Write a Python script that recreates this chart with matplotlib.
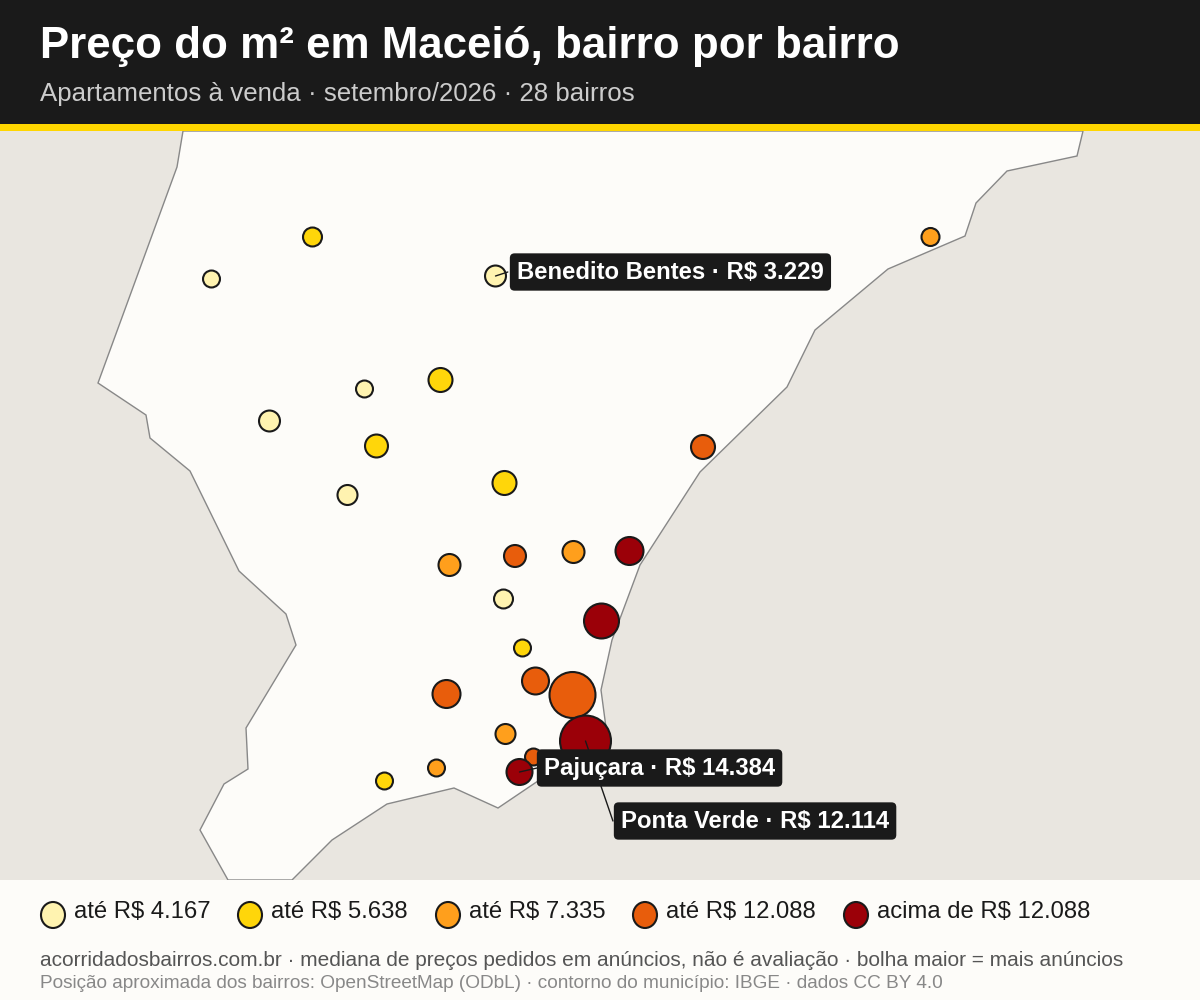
import matplotlib
matplotlib.use("Agg")
import matplotlib.pyplot as plt
from matplotlib.patches import Ellipse, Polygon, Rectangle

plt.rcParams["font.family"] = ["Liberation Sans", "DejaVu Sans"]

# outline of the municipality
contorno_x = [183, 177, 98, 146, 150, 190, 239, 286, 296, 246, 248, 224, 200, 228, 292, 332, 387, 454, 498,
              535, 607, 601, 612, 640, 700, 787, 815, 888, 965, 976, 1007, 1077, 1083]
contorno_y = [131, 167, 383, 415, 438, 471, 571, 614, 645, 728, 769, 784, 830, 880, 880, 840, 804, 788, 808,
              783, 735, 690, 640, 565, 472, 387, 330, 269, 236, 203, 171, 156, 131]

# bairros: position on the map, listings (bubble area), price band
bairro_x = [211.5, 495.5, 364.5, 269.5, 347.5, 503.5,
            312.5, 440.5, 376.5, 504.5, 522.5, 384.5,
            930.5, 449.5, 573.5, 505.5, 436.5,
            703, 515, 535.5, 446.5, 572.5, 533.5,
            629.5, 601.5, 585.5, 519.5]
bairro_y = [279, 276, 389, 421, 495, 599,
            237, 380, 446, 483, 648, 781,
            237, 565, 552, 734, 768,
            447, 556, 681, 694, 695, 757,
            551, 621, 741, 772]
anuncios = [72, 110, 72, 110, 100, 90,
            90, 144, 132, 144, 72, 72,
            81, 121, 121, 100, 72,
            144, 121, 182, 196, 529, 72,
            196, 306, 650, 169]
faixa = [0, 0, 0, 0, 0, 0,
         1, 1, 1, 1, 1, 1,
         2, 2, 2, 2, 2,
         3, 3, 3, 3, 3, 3,
         4, 4, 4, 4]

cores = ["#fff3b0", "#ffd60a", "#ff9f1c", "#e85d0c", "#9b0008"]
legenda = ["até R$ 4.167", "até R$ 5.638", "até R$ 7.335", "até R$ 12.088", "acima de R$ 12.088"]
legenda_x = [53, 250, 448, 645, 856]

# Ponta Verde goes first so that its leader passes behind the Pajuçara label
destaques = ["Benedito Bentes · R$ 3.229", "Ponta Verde · R$ 12.114", "Pajuçara · R$ 14.384"]
destaque_ponto = [(495.5, 276), (585.5, 741), (519.5, 772)]
destaque_texto = [(517, 272), (621, 821), (544, 768)]

ESCURO = "#1a1a1a"
FUNDO = "#fdfcf9"
AGUA = "#e9e6e0"
W, H = 1200, 1000


def fx(x):
    return x / W


def fy(y):
    return 1 - y / H


fig = plt.figure(figsize=(12, 10), dpi=100, facecolor=FUNDO)

# header
fig.add_artist(Rectangle((0, fy(124)), 1, 124 / H, transform=fig.transFigure, color=ESCURO, lw=0))
fig.add_artist(Rectangle((0, fy(131)), 1, 7 / H, transform=fig.transFigure, color="#ffd600", lw=0))
fig.text(fx(40), fy(42), "Preço do m² em Maceió, bairro por bairro", color="white", fontsize=31.6,
         fontweight="bold", va="center_baseline")
fig.text(fx(40), fy(92), "Apartamentos à venda · setembro/2026 · 28 bairros", color="#cccccc", fontsize=18.6,
         va="center_baseline")

# map
ax = fig.add_axes([0, fy(880), 1, 749 / H])
ax.set_xlim(0, W)
ax.set_ylim(880, 131)
ax.set_facecolor(AGUA)
ax.axis("off")
ax.add_patch(Rectangle((0, 131), W, 749, color=AGUA, lw=0, zorder=0))
ax.add_patch(Polygon(list(zip(contorno_x, contorno_y)), closed=True, facecolor=FUNDO, edgecolor="#888888",
                     lw=1.0, zorder=1))

ax.scatter(bairro_x, bairro_y, s=[n * 2.07 for n in anuncios], c=[cores[f] for f in faixa],
           edgecolors=ESCURO, linewidths=1.5, zorder=3)

for rotulo, ponto, pos in zip(destaques, destaque_ponto, destaque_texto):
    ax.annotate(rotulo, xy=ponto, xytext=pos, color="white", fontsize=17.2, fontweight="bold", va="center",
                ha="left", zorder=5,
                bbox=dict(boxstyle="round,pad=0.3,rounding_size=0.2", fc=ESCURO, ec=ESCURO, lw=0),
                arrowprops=dict(arrowstyle="-", color=ESCURO, lw=1.0, shrinkA=0, shrinkB=0, relpos=(-0.03, 0.5)))

# legend
for x, cor, rotulo in zip(legenda_x, cores, legenda):
    fig.add_artist(Ellipse((fx(x), fy(915)), 24 / W, 26 / H, transform=fig.transFigure, facecolor=cor,
                           edgecolor=ESCURO, lw=1.5))
    fig.text(fx(x + 21), fy(910), rotulo, color=ESCURO, fontsize=17.2, va="center_baseline")

# footer
fig.text(fx(40), fy(958), "acorridadosbairros.com.br · mediana de preços pedidos em anúncios, não é avaliação · "
         "bolha maior = mais anúncios", color="#555555", fontsize=15.07, va="center_baseline")
fig.text(fx(40), fy(982), "Posição aproximada dos bairros: OpenStreetMap (ODbL) · contorno do município: IBGE · "
         "dados CC BY 4.0", color="#888888", fontsize=13.7, va="center_baseline")

fig.savefig("out.png", dpi=100, facecolor=FUNDO)
